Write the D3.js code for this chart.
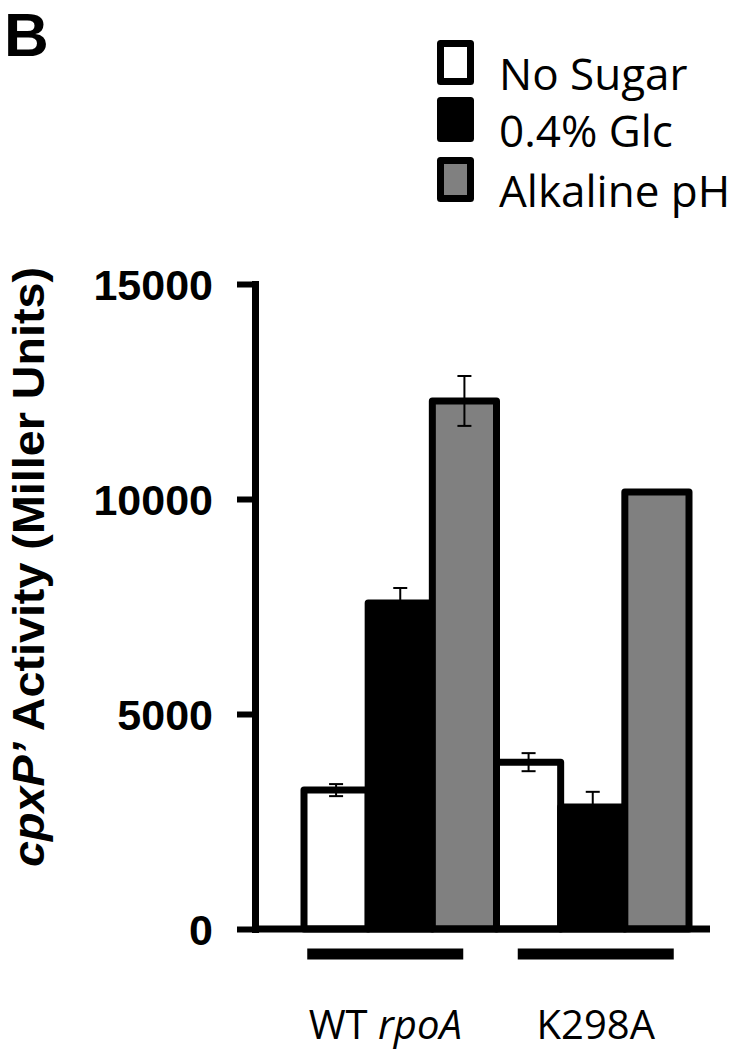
<!DOCTYPE html>
<html lang="en">
  <head>
    <meta charset="utf-8">
    <title>cpxP' Activity</title>
    <script src="https://d3js.org/d3.v7.min.js"></script>
    <style>
      body { margin: 0; background: #fff; }
      svg { display: block; }
    </style>
  </head>
  <body>
    <div id="chart"></div>
    <script>

// data
var strains = ["WT rpoA", "K298A"];
var conditions = ["No Sugar", "0.4% Glc", "Alkaline pH"];
var noSugar = [3230, 3880];
var glc = [7580, 2840];
var alkaline = [12280, 10160];
var noSugarErr = [140, 210];
var glcErr = [350, 350];
var alkalineErr = [580, 40];
var yTicks = [0, 5000, 10000, 15000];
var fills = ["#ffffff", "#000000", "#808080"];

var width = 729, height = 1050;

var svg = d3.select("#chart").append("svg")
	.attr("width", width)
	.attr("height", height);

var y = d3.scaleLinear().domain([0, 15000]).range([929, 284]);
var x0 = d3.scaleBand().domain(strains).range([304, 689]).padding(0);
var x1 = d3.scaleBand().domain(conditions).range([0, x0.bandwidth()]).padding(0);

var values = [noSugar, glc, alkaline];
var errs = [noSugarErr, glcErr, alkalineErr];

var rows = [];
strains.forEach(function(s, i) {
	conditions.forEach(function(c, j) {
		rows.push({strain: s, cond: c, value: values[j][i], err: errs[j][i], fill: fills[j]});
	});
});

// panel letter
svg.append("text")
	.attr("x", 4)
	.attr("y", 56)
	.style("font-family", "Liberation Sans, Arial, sans-serif")
	.style("font-weight", "bold")
	.style("font-size", "62px")
	.text("B");

// bars
svg.append("g").selectAll("rect")
	.data(rows)
	.enter()
	.append("rect")
		.attr("x", function(d) { return x0(d.strain) + x1(d.cond); })
		.attr("y", function(d) { return y(d.value); })
		.attr("width", x1.bandwidth())
		.attr("height", function(d) { return y(0) - y(d.value); })
		.style("fill", function(d) { return d.fill; })
		.style("stroke", "#000")
		.style("stroke-width", 7)
		.style("stroke-linejoin", "round");

// error bars
var eb = svg.append("g").selectAll("g")
	.data(rows)
	.enter()
	.append("g")
	.attr("transform", function(d) { return "translate(" + (x0(d.strain) + x1(d.cond) + x1.bandwidth() / 2) + ",0)"; })
	.style("stroke", "#000")
	.style("stroke-width", 2);
eb.append("line")
	.attr("y1", function(d) { return y(d.value - d.err); })
	.attr("y2", function(d) { return y(d.value + d.err); });
eb.append("line")
	.attr("x1", -7).attr("x2", 7)
	.attr("y1", function(d) { return y(d.value + d.err); })
	.attr("y2", function(d) { return y(d.value + d.err); });
eb.append("line")
	.attr("x1", -7).attr("x2", 7)
	.attr("y1", function(d) { return y(d.value - d.err); })
	.attr("y2", function(d) { return y(d.value - d.err); });

// y axis
var yAxis = svg.append("g")
	.attr("transform", "translate(255,0)")
	.call(d3.axisLeft(y).tickValues(yTicks).tickSize(18).tickSizeOuter(0).tickPadding(24).tickFormat(d3.format("d")));
yAxis.select(".domain").style("stroke-width", 7).style("stroke-linecap", "square");
yAxis.selectAll(".tick line").style("stroke-width", 6);
yAxis.selectAll(".tick text")
	.style("font-family", "Liberation Sans, Arial, sans-serif")
	.style("font-weight", "bold")
	.style("font-size", "43px")
	.attr("dy", "0.36em");

// x axis line
svg.append("line")
	.attr("x1", 255).attr("x2", 710)
	.attr("y1", y(0)).attr("y2", y(0))
	.style("stroke", "#000")
	.style("stroke-width", 7);

// group underlines and labels
var groupShift = [-15, 3];
var grp = svg.append("g").selectAll("g")
	.data(strains)
	.enter()
	.append("g")
	.attr("transform", function(d, i) { return "translate(" + (x0(d) + x0.bandwidth() / 2 + groupShift[i]) + ",0)"; });
grp.append("line")
	.attr("x1", -78).attr("x2", 78)
	.attr("y1", 954).attr("y2", 954)
	.style("stroke", "#000")
	.style("stroke-width", 11);
var gl = grp.append("text")
	.attr("y", 1039)
	.attr("text-anchor", "middle")
	.style("font-family", "Open Sans, sans-serif")
	.style("font-size", "40px");
gl.each(function(d) {
	var t = d3.select(this);
	var parts = d.split(" ");
	if (parts.length > 1) {
		t.append("tspan").text(parts[0] + " ");
		t.append("tspan").style("font-style", "italic").text(parts[1]);
	} else {
		t.text(d);
	}
});

// y label
var yl = svg.append("text")
	.attr("transform", "translate(44,567) rotate(-90)")
	.attr("text-anchor", "middle")
	.attr("textLength", 600)
	.attr("lengthAdjust", "spacingAndGlyphs")
	.style("font-family", "Liberation Sans, Arial, sans-serif")
	.style("font-weight", "bold")
	.style("font-size", "44px");
yl.append("tspan").style("font-style", "italic").text("cpxP\u2019");
yl.append("tspan").text(" Activity (Miller Units)");

// legend
var legendTop = [40, 97, 157];
var lg = svg.append("g").selectAll("g")
	.data(conditions)
	.enter()
	.append("g");
lg.append("rect")
	.attr("x", 440.5)
	.attr("y", function(d, i) { return legendTop[i] + 3.5; })
	.attr("width", 30)
	.attr("height", 38)
	.style("fill", function(d, i) { return fills[i]; })
	.style("stroke", "#000")
	.style("stroke-width", 7)
	.style("stroke-linejoin", "round");
lg.append("text")
	.attr("x", 499)
	.attr("y", function(d, i) { return legendTop[i] + 50; })
	.style("font-family", "Open Sans, sans-serif")
	.style("font-size", "44px")
	.text(function(d) { return d; });

    </script>
  </body>
</html>
